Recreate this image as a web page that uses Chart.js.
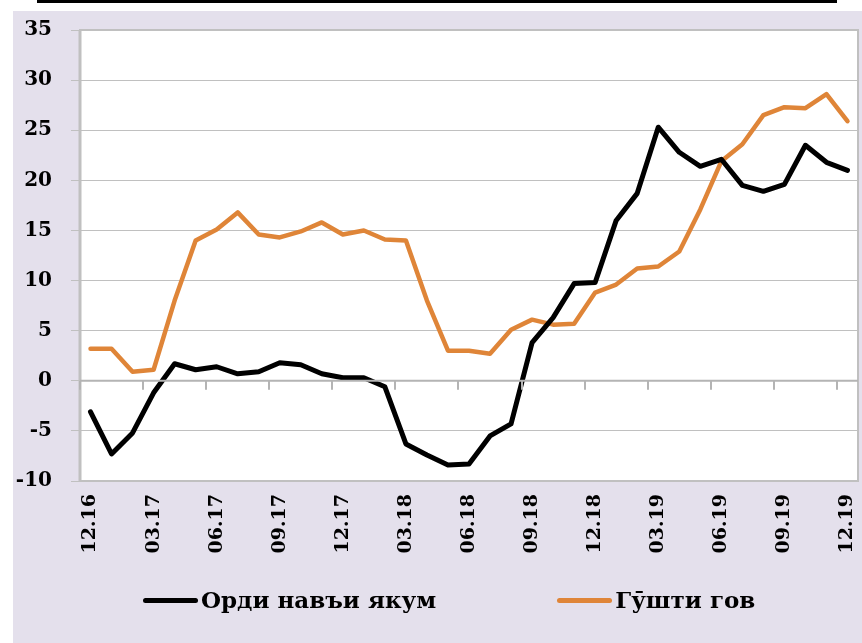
<!DOCTYPE html>
<html>
<head>
<meta charset="utf-8">
<script src="https://cdn.jsdelivr.net/npm/chart.js@4.4.1/dist/chart.umd.min.js"></script>
<style>
  html, body { margin: 0; padding: 0; background: #ffffff; }
  body { width: 862px; height: 643px; position: relative; overflow: hidden; }
  .topRule { position: absolute; left: 37px; top: 0; width: 800px; height: 3px; background: #000; }
  .panel { position: absolute; left: 13px; top: 11px; width: 849px; height: 632px; background: #e4e0ec; }
  #chart { display: block; }
  #legend {
    position: absolute; left: 143px; top: 585px; display: flex; gap: 121px;
    font: bold 23px 'DejaVu Serif', serif; color: #000; line-height: 30px;
  }
  #legend .item { display: flex; align-items: center; white-space: nowrap; }
  #legend .swatch { width: 55px; height: 5px; border-radius: 3px; margin-right: 3px; }
</style>
</head>
<body>
<div class="topRule"></div>
<div class="panel"><canvas id="chart" width="849" height="632"></canvas></div>
<div id="legend"></div>
<script>
// months 12.16 .. 12.19
const months = [
  '12.16', '01.17', '02.17', '03.17', '04.17', '05.17', '06.17', '07.17', '08.17', '09.17', '10.17', '11.17',
  '12.17', '01.18', '02.18', '03.18', '04.18', '05.18', '06.18', '07.18', '08.18', '09.18', '10.18', '11.18',
  '12.18', '01.19', '02.19', '03.19', '04.19', '05.19', '06.19', '07.19', '08.19', '09.19', '10.19', '11.19',
  '12.19'
];
// labels shown on the axis (quarterly)
const shownLabels = ['12.16', '03.17', '06.17', '09.17', '12.17', '03.18', '06.18', '09.18', '12.18', '03.19', '06.19', '09.19', '12.19'];

const flour = [
  -3.1, -7.3, -5.2, -1.2, 1.7, 1.1, 1.4, 0.7, 0.9, 1.8, 1.6, 0.7,
  0.3, 0.3, -0.6, -6.3, -7.4, -8.4, -8.3, -5.5, -4.3, 3.8, 6.3, 9.7,
  9.8, 16.0, 18.7, 25.3, 22.8, 21.4, 22.1, 19.5, 18.9, 19.6, 23.5, 21.8,
  21.0
];
const beef = [
  3.2, 3.2, 0.9, 1.1, 8.0, 14.0, 15.1, 16.8, 14.6, 14.3, 14.9, 15.8,
  14.6, 15.0, 14.1, 14.0, 8.0, 3.0, 3.0, 2.7, 5.1, 6.1, 5.6, 5.7,
  8.8, 9.6, 11.2, 11.4, 12.9, 17.1, 21.9, 23.6, 26.5, 27.3, 27.2, 28.6,
  25.9
];
const yTicks = [-10, -5, 0, 5, 10, 15, 20, 25, 30, 35];

const GRID = '#c0c0c0';
const FONT = "'DejaVu Serif', serif";

// white plot area, frame around it, x axis at zero with quarterly tick marks
const framePlugin = {
  id: 'frame',
  beforeDraw(chart) {
    const { ctx, chartArea: a } = chart;
    ctx.save();
    ctx.fillStyle = '#ffffff';
    ctx.fillRect(a.left, a.top, a.right - a.left, a.bottom - a.top);
    ctx.restore();
  },
  afterDraw(chart) {
    const { ctx, chartArea: a, scales: { x, y } } = chart;
    ctx.save();
    ctx.strokeStyle = GRID;
    ctx.lineWidth = 2;
    ctx.strokeRect(a.left, a.top, a.right - a.left, a.bottom - a.top);
    ctx.lineWidth = 3;
    ctx.beginPath();
    ctx.moveTo(a.left, a.top);
    ctx.lineTo(a.left, a.bottom);
    ctx.stroke();
    const y0 = y.getPixelForValue(0);
    ctx.strokeStyle = '#b4b4b4';
    ctx.lineWidth = 2;
    ctx.beginPath();
    ctx.moveTo(a.left, y0);
    ctx.lineTo(a.right, y0);
    for (let i = 0; i < months.length; i += 3) {
      const px = Math.round(x.getPixelForValue(i - 0.5));
      ctx.moveTo(px, y0);
      ctx.lineTo(px, y0 + 9);
    }
    ctx.stroke();
    ctx.restore();
  }
};

const chart = new Chart(document.getElementById('chart'), {
  type: 'line',
  data: {
    labels: months,
    datasets: [
      {
        label: 'Орди навъи якум',
        data: flour,
        borderColor: '#000000',
        backgroundColor: '#000000',
        borderWidth: 5,
        pointRadius: 0,
        borderJoinStyle: 'round',
        borderCapStyle: 'round',
        tension: 0,
      },
      {
        label: 'Гӯшти гов',
        data: beef,
        borderColor: '#df8538',
        backgroundColor: '#df8538',
        borderWidth: 4.5,
        pointRadius: 0,
        borderJoinStyle: 'round',
        borderCapStyle: 'round',
        tension: 0,
      },
    ],
  },
  options: {
    responsive: false,
    animation: false,
    layout: { padding: { left: 0, right: 4, top: 19, bottom: 62 } },
    plugins: {
      tooltip: { enabled: false },
      legend: { display: false },
    },
    scales: {
      x: {
        offset: true,
        grid: { display: false, drawTicks: false },
        border: { display: false },
        afterFit: s => { s.height = 100; s.paddingLeft = 0; s.paddingRight = 0; },
        ticks: {
          autoSkip: false,
          maxRotation: 90,
          minRotation: 90,
          padding: 13,
          color: '#000',
          font: { family: FONT, size: 19, weight: 'bold' },
          callback: (v, i) => shownLabels.includes(months[i]) ? months[i] : '',
        },
      },
      y: {
        min: -10,
        max: 35,
        afterFit: s => { s.width = 67; s.paddingTop = 12; s.paddingBottom = 12; },
        afterBuildTicks: s => { s.ticks = yTicks.map(v => ({ value: v })); },
        grid: { color: GRID, lineWidth: 1, tickLength: 9 },
        border: { display: false },
        ticks: {
          autoSkip: false,
          padding: 19,
          color: '#000',
          font: { family: FONT, size: 20, weight: 'bold' },
        },
      },
    },
  },
  plugins: [framePlugin],
});

// html legend built from the datasets
document.getElementById('legend').innerHTML = chart.data.datasets.map(ds => `
  <div class="item"><span class="swatch" style="background:${ds.borderColor}"></span>${ds.label}</div>`).join('');
</script>
</body>
</html>
